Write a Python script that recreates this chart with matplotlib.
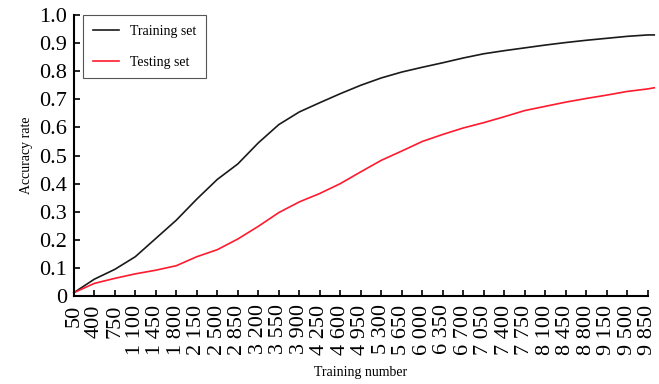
#!/usr/bin/env python3
"""Accuracy rate of training and testing sets versus training number."""
import matplotlib
matplotlib.use("Agg")
import matplotlib.pyplot as plt

# values at every 350 training steps
train_n = [50, 400, 750, 1100, 1450, 1800, 2150, 2500, 2850, 3200, 3550, 3900,
           4250, 4600, 4950, 5300, 5650, 6000, 6350, 6700, 7050, 7400, 7750,
           8100, 8450, 8800, 9150, 9500, 9850, 9960]
train_acc = [0.012, 0.06, 0.095, 0.14, 0.205, 0.27, 0.345, 0.415, 0.47, 0.545,
             0.61, 0.655, 0.688, 0.72, 0.75, 0.776, 0.797, 0.814, 0.83, 0.847,
             0.862, 0.873, 0.883, 0.893, 0.902, 0.91, 0.917, 0.924, 0.929, 0.929]
test_acc = [0.012, 0.045, 0.063, 0.079, 0.092, 0.108, 0.14, 0.165, 0.203, 0.248,
            0.297, 0.335, 0.365, 0.40, 0.442, 0.483, 0.516, 0.55, 0.575, 0.598,
            0.617, 0.638, 0.66, 0.675, 0.69, 0.703, 0.715, 0.728, 0.737, 0.741]

xticks = list(range(50, 9851, 350))
xtick_labels = [f"{v:,}".replace(",", " ") for v in xticks]
yticks = [0, 0.1, 0.2, 0.3, 0.4, 0.5, 0.6, 0.7, 0.8, 0.9, 1.0]
ytick_labels = ["0"] + [f"{v:.1f}" for v in yticks[1:]]

plt.rcParams["font.family"] = ["Liberation Serif", "DejaVu Serif"]

fig = plt.figure(figsize=(6.59, 3.84), dpi=100)
ax = fig.add_axes([0.112, 0.229, 0.871, 0.732])

ax.plot(train_n, train_acc, color="#1a1a1a", lw=1.2, label="Training set", clip_on=False)
ax.plot(train_n, test_acc, color="#ff1a2e", lw=1.2, label="Testing set", clip_on=False)

ax.set_xlim(50, 9850)
ax.set_ylim(0, 1.0)
ax.set_xticks(xticks)
ax.set_xticklabels(xtick_labels, rotation=90, fontsize=16)
ax.set_yticks(yticks)
ax.set_yticklabels(ytick_labels, fontsize=16)
ax.tick_params(direction="in", length=4, width=1.2)
ax.tick_params(axis="x", pad=6)
ax.tick_params(axis="y", pad=5)

for side in ("top", "right"):
    ax.spines[side].set_visible(False)
for side in ("left", "bottom"):
    ax.spines[side].set_linewidth(1.5)

ax.set_xlabel("Training number", fontsize=10, labelpad=8)
ax.set_ylabel("Accuracy rate", fontsize=10, labelpad=4)

leg = ax.legend(loc="upper left", fontsize=10, labelspacing=1.3, handlelength=1.9,
                fancybox=False, edgecolor="#555555", framealpha=1,
                borderpad=0.7, borderaxespad=0, bbox_to_anchor=(0.016, 1.0))
leg.get_frame().set_linewidth(0.8)

fig.savefig("out.png", dpi=100)
